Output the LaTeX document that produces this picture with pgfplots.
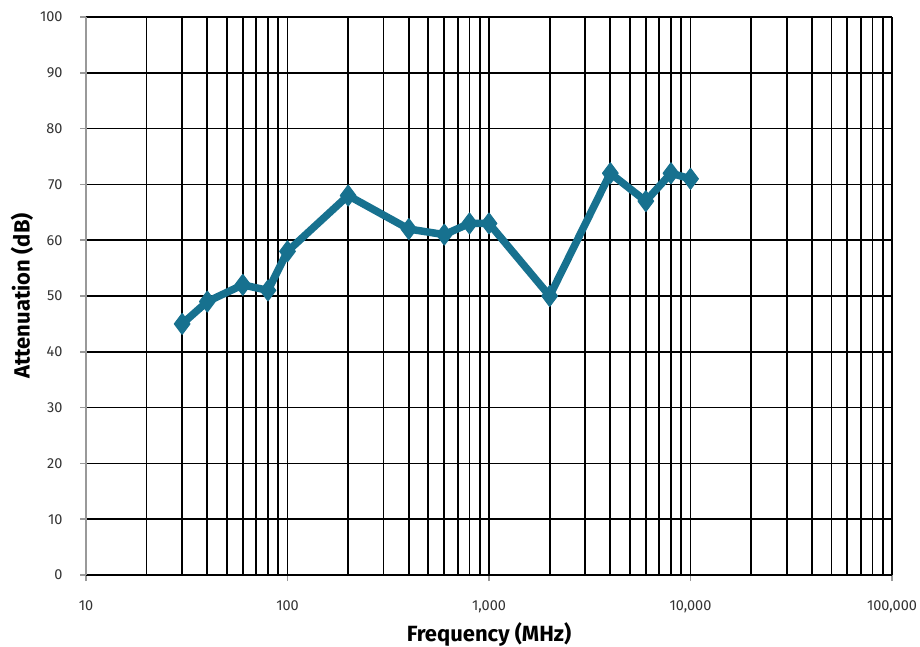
\documentclass[border=0pt]{standalone}
\usepackage{fontspec}
\setmainfont{Fira Sans}
\usepackage{pgfplots}
\pgfplotsset{compat=1.18}
\definecolor{teal}{HTML}{17718F}
\definecolor{ticktext}{HTML}{333333}
\begin{document}
\begin{tikzpicture}
\begin{axis}[
  scale only axis,
  width=806pt, height=558pt,
  xmode=log, log basis x=10,
  xmin=10, xmax=100000,
  ymin=0, ymax=100,
  xtick={10,100,1000,10000,100000},
  xticklabels={10,100,{1,000},{10,000},{100,000}},
  minor xtick={20,30,40,50,60,70,80,90,200,300,400,500,600,700,800,900,2000,3000,4000,5000,6000,7000,8000,9000,20000,30000,40000,50000,60000,70000,80000,90000},
  ytick={0,10,...,100},
  grid=both,
  major grid style={black, line width=1.7pt},
  minor grid style={black, line width=1.7pt},
  axis x line*=bottom,
  axis y line*=left,
  x axis line style={black, line width=1.7pt, -},
  y axis line style={gray!80, line width=1.7pt, -},
  tick align=outside,
  major tick length=6pt,
  minor tick length=0pt,
  tick style={gray!80, line width=1.7pt},
  xticklabel style={font=\fontsize{14.5}{16}\selectfont, text=ticktext, yshift=-16pt},
  yticklabel style={font=\fontsize{14.5}{16}\selectfont, text=ticktext, xshift=-14pt},
  /pgf/number format/assume math mode=true,
  xlabel={\textbf{Frequency (MHz)}},
  ylabel={\textbf{Attenuation (dB)}},
  xlabel style={font=\fontsize{22}{24}\selectfont, yshift=-3pt},
  ylabel style={font=\fontsize{22}{24}\selectfont, yshift=0pt},
  clip=false,
]
\addplot[color=teal, line width=7.5pt, line join=round, mark=diamond*, mark size=10.5pt, mark options={fill=teal, line width=1pt}]
coordinates {
(30,45) (40,49) (60,52) (80,51) (100,58) (200,68) (400,62) (600,61) (800,63) (1000,63) (2000,50) (4000,72) (6000,67) (8000,72) (10000,71)
};
\coordinate (ll) at (rel axis cs:0,0);
\coordinate (ur) at (rel axis cs:1,1);
\end{axis}
\path (ll) ++(-86pt,-71pt) coordinate (bbll);
\path (ur) ++(28pt,17pt) coordinate (bbur);
\pgfresetboundingbox
\path[use as bounding box] (bbll) rectangle (bbur);
\end{tikzpicture}
\end{document}
